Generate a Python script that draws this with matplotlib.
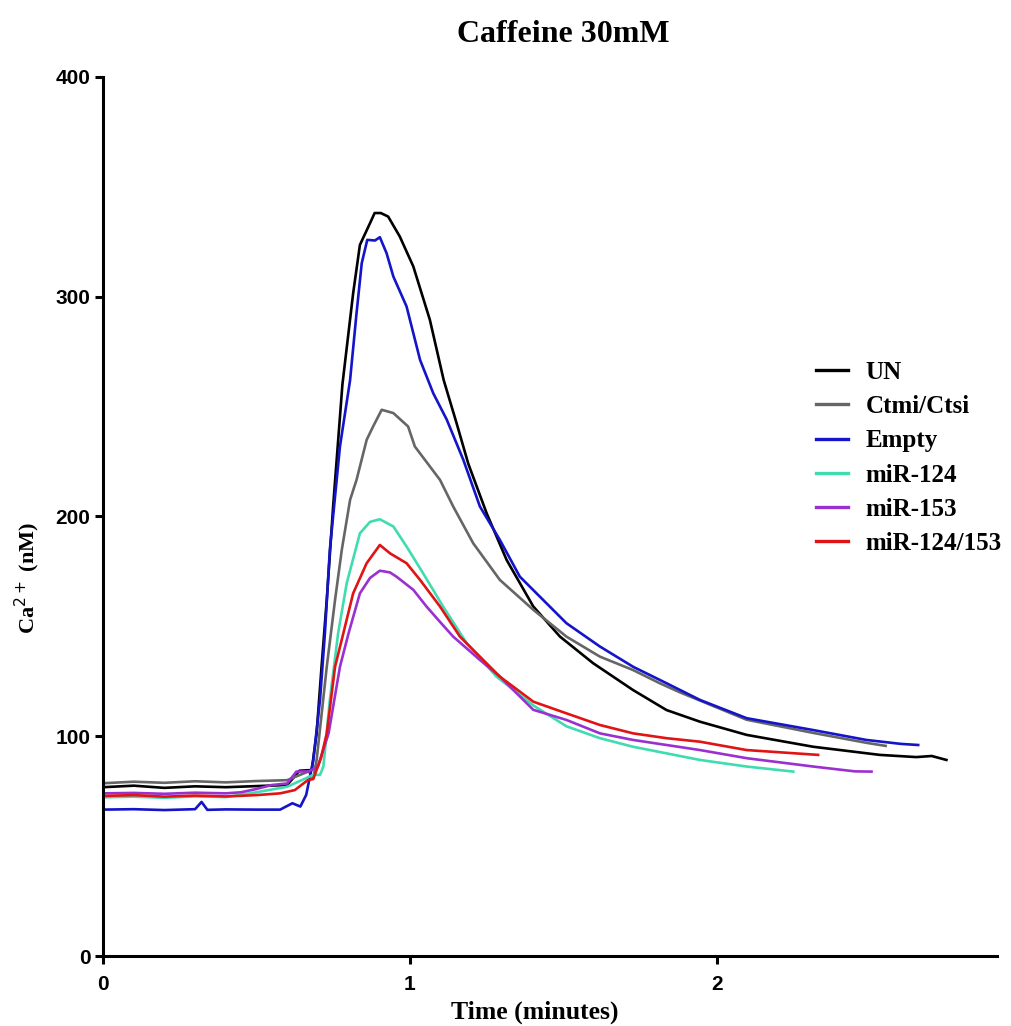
import numpy as np
import matplotlib
matplotlib.use('Agg')
import matplotlib.pyplot as plt

# Time (minutes) and Ca2+ (nM)
t_un = [0, 0.1, 0.2, 0.3, 0.4, 0.5, 0.6, 0.64, 0.68, 0.696, 0.712, 0.729, 0.75, 0.78,
        0.815, 0.837, 0.87, 0.885, 0.905, 0.929, 0.967, 1.011, 1.065, 1.11, 1.152, 1.19,
        1.25, 1.315, 1.402, 1.489, 1.597, 1.727, 1.836, 1.945, 2.097, 2.314, 2.531, 2.65,
        2.70, 2.748]
v_un = [76.8, 77.5, 76.5, 77.2, 76.8, 77.3, 77.8, 84.3, 84.6, 101.3, 131.6, 162, 205, 260,
        301.5, 323.5, 333.4, 338, 338, 336.4, 327.3, 313.7, 289.4, 262, 242.4, 224,
        201.4, 180.2, 159, 145.3, 133.2, 121, 111.9, 106.6, 100.6, 95.2, 91.5, 90.5,
        91, 89.2]

t_ct = [0, 0.1, 0.2, 0.3, 0.4, 0.5, 0.6, 0.642, 0.67, 0.685, 0.696, 0.729, 0.756, 0.778,
        0.805, 0.826, 0.859, 0.88, 0.908, 0.946, 0.994, 1.016, 1.098, 1.141, 1.206, 1.293,
        1.402, 1.510, 1.619, 1.727, 1.814, 1.879, 2.097, 2.314, 2.487, 2.55]
v_ct = [78.6, 79.3, 78.8, 79.5, 79, 79.6, 80, 82.4, 84, 80.9, 89.2, 131.6, 162, 184.8,
        207.5, 216.6, 234.8, 240.9, 248.5, 247, 240.9, 231.8, 216.6, 204.5, 187.8, 171.1,
        157.5, 145.3, 136.2, 130.1, 124.1, 120, 107.5, 101.5, 97, 95.6]

t_empty = [0, 0.1, 0.2, 0.3, 0.321, 0.34, 0.4, 0.5, 0.577, 0.617, 0.643, 0.662, 0.685,
           0.707, 0.723, 0.739, 0.772, 0.805, 0.826, 0.843, 0.861, 0.886, 0.902, 0.924,
           0.946, 0.989, 1.033, 1.076, 1.12, 1.174, 1.228, 1.293, 1.358, 1.434, 1.510,
           1.619, 1.727, 1.836, 1.945, 2.097, 2.314, 2.487, 2.60, 2.656]
v_empty = [66.6, 66.8, 66.4, 66.8, 70.1, 66.5, 66.7, 66.6, 66.6, 69.5, 68, 73.3, 89,
           116.5, 146.8, 184.8, 231.8, 262, 292.4, 315.2, 325.8, 325.5, 327, 319.7,
           309.1, 295.5, 271.2, 256, 244, 225.7, 204.5, 189.3, 172.6, 162, 151.4,
           140.8, 131.6, 124.1, 116.5, 108.2, 102.8, 98.3, 96.5, 96]

t_124 = [0, 0.1, 0.2, 0.3, 0.4, 0.5, 0.6, 0.685, 0.707, 0.718, 0.739, 0.766, 0.794, 0.837,
         0.87, 0.902, 0.946, 0.989, 1.043, 1.108, 1.185, 1.282, 1.402, 1.510, 1.619, 1.727,
         1.836, 1.945, 2.097, 2.249]
v_124 = [72.2, 72.5, 72.0, 72.6, 72.3, 74.5, 77, 82.4, 82.4, 86.2, 116.5, 146.8, 169.6,
         192.3, 197.5, 198.7, 195.4, 186.3, 174.1, 159, 142.3, 127.1, 114, 104.5, 99.1,
         95.2, 92.2, 89.2, 86.2, 83.9]

t_153 = [0, 0.1, 0.2, 0.3, 0.4, 0.45, 0.5, 0.55, 0.6, 0.63, 0.67, 0.7, 0.735, 0.772, 0.8,
         0.837, 0.87, 0.902, 0.935, 0.956, 1.011, 1.054, 1.098, 1.141, 1.228, 1.293, 1.402,
         1.510, 1.619, 1.727, 1.836, 1.945, 2.097, 2.314, 2.45, 2.504]
v_153 = [74, 74.2, 73.8, 74.3, 74, 74.5, 76, 77.8, 78.5, 83.9, 84, 86.2, 101.3, 131.6,
         146.8, 165, 172, 175.3, 174.5, 172.6, 166.6, 159, 152, 145.3, 134.7, 127.1, 112,
         107.4, 101.3, 98.3, 96, 93.7, 90, 86.2, 84, 83.9]

t_124_153 = [0, 0.1, 0.2, 0.3, 0.4, 0.5, 0.577, 0.625, 0.667, 0.685, 0.71, 0.729, 0.756,
             0.783, 0.815, 0.859, 0.902, 0.935, 0.989, 1.033, 1.098, 1.163, 1.293, 1.402,
             1.510, 1.619, 1.727, 1.836, 1.945, 2.097, 2.33]
v_124_153 = [72.8, 73.2, 72.5, 73, 72.6, 73.2, 74, 75.5, 80, 80.5, 90, 101.3, 131.6,
             146.8, 165, 178.7, 187, 183.2, 178.7, 171.1, 159, 145.3, 127.1, 115.7,
             110.4, 105.1, 101.3, 99.1, 97.5, 93.7, 91.5]

labels = ['UN', 'Ctmi/Ctsi', 'Empty', 'miR-124', 'miR-153', 'miR-124/153']
colors = ['#000000', '#666666', '#1414c8', '#40dcb0', '#9b30d0', '#e01414']
series = [(t_un, v_un), (t_ct, v_ct), (t_empty, v_empty), (t_124, v_124),
          (t_153, v_153), (t_124_153, v_124_153)]

serif = ['Liberation Serif', 'DejaVu Serif']
sans = ['Liberation Sans', 'DejaVu Sans']

fig = plt.figure(figsize=(10.11, 10.26), dpi=100)
ax = fig.add_axes([0.1019, 0.0682, 0.884, 0.857])

for (t, v), lab, col in zip(series, labels, colors):
    ax.plot(t, v, color=col, lw=1.9, label=lab)

ax.set_xlim(0, 2.912)
ax.set_ylim(0, 400)
ax.set_xticks([0, 1, 2])
ax.set_yticks([0, 100, 200, 300, 400])
for s in ['top', 'right']:
    ax.spines[s].set_visible(False)
for s in ['left', 'bottom']:
    ax.spines[s].set_linewidth(2.2)
ax.tick_params(direction='out', length=6, width=2.2, labelsize=15, pad=3)
ax.tick_params(axis='x', pad=8)
for lbl in ax.get_xticklabels() + ax.get_yticklabels():
    lbl.set_family(sans)
    lbl.set_fontweight('bold')

# axis titles placed by hand to sit where the original has them
fig.text(0.529, 0.013, 'Time (minutes)', ha='center', va='center',
         fontsize=18.5, fontweight='bold', family=serif)
ax.set_ylabel('Ca$^{2+}$ (nM)', fontsize=16, fontweight='bold', family=serif)
ax.yaxis.set_label_coords(-0.068, 0.43)

fig.text(0.557, 0.966, 'Caffeine 30mM', ha='center', va='center',
         fontsize=23, fontweight='bold', family=serif)

leg = ax.legend(loc='upper left', bbox_to_anchor=(0.7975, 0.677), frameon=False,
                borderpad=0, borderaxespad=0,
                handlelength=1.28, handletextpad=0.72, labelspacing=0.45,
                prop={'family': serif, 'weight': 'bold', 'size': 18})
for h in leg.get_lines():
    h.set_linewidth(2.4)

fig.savefig('out.png', dpi=100)
